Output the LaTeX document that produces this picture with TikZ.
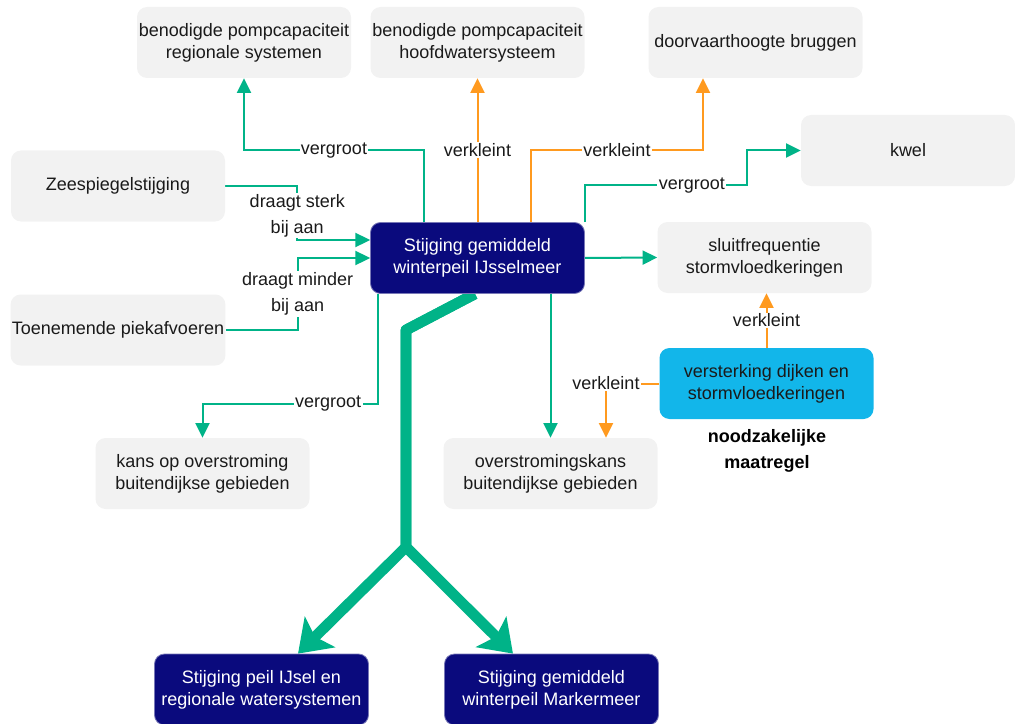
\documentclass[tikz,border=0pt]{standalone}
\usepackage{fontspec}
\setmainfont{Liberation Sans}
\usetikzlibrary{arrows.meta}

\definecolor{boxgrey}{RGB}{242,242,242}
\definecolor{navyc}{RGB}{10,10,125}
\definecolor{cyanc}{RGB}{18,182,234}
\definecolor{greenc}{RGB}{0,179,136}
\definecolor{orangec}{RGB}{255,154,31}
\definecolor{txt}{RGB}{26,26,26}

\newcommand\boxfont{\fontsize{13.5}{16.5}\selectfont}
\newcommand\labfont{\fontsize{13.5}{19.5}\selectfont}

\pgfdeclarelayer{background}
\pgfsetlayers{background,main}

\tikzset{
  box/.style={rectangle, rounded corners=7.5pt, minimum width=160.5pt,
    minimum height=53.25pt, align=center, inner sep=1pt, font=\boxfont},
  greybox/.style={box, fill=boxgrey, text=txt},
  navybox/.style={box, fill=navyc, draw=navyc!55!white, line width=0.6pt, text=white},
  cyanbox/.style={box, fill=cyanc, text=txt},
  notetext/.style={align=center, font=\fontsize{13.5}{20}\selectfont\bfseries, text=black},
  gline/.style={draw=greenc, line width=1.5pt, -{Triangle[length=11pt,width=10.5pt]}},
  oline/.style={draw=orangec, line width=1.5pt, -{Triangle[length=11pt,width=10.5pt]}},
  lab/.style={fill=white, inner sep=1pt, text=txt, font=\boxfont},
  lab2/.style={fill=white, inner sep=1pt, text=txt, font=\labfont, align=center},
  bigarrow/.style={draw=greenc, line width=8pt, line join=round,
    -{Stealth[length=23pt,width=32pt,inset=5pt]}}
}

\begin{document}
\begin{tikzpicture}[x=0.75pt,y=-0.75pt]
\useasboundingbox (0,0) rectangle (1015,724);

% boxes
\node[greybox] (regio) at (244,42.5) {benodigde pompcapaciteit\\regionale systemen};
\node[greybox] (hoofd) at (477.5,42.5) {benodigde pompcapaciteit\\hoofdwatersysteem};
\node[greybox] (brug) at (755.5,42.5) {doorvaarthoogte bruggen};
\node[greybox] (kwel) at (908,150.5) {kwel};
\node[greybox] (zee) at (118,186) {Zeespiegelstijging};
\node[greybox] (piek) at (118,330) {Toenemende piekafvoeren};
\node[navybox] (ijssel) at (477.5,258) {Stijging gemiddeld\\winterpeil IJsselmeer};
\node[greybox] (sluit) at (764.5,257.5) {sluitfrequentie\\stormvloedkeringen};
\node[cyanbox] (verst) at (766.5,383.5) {versterking dijken en\\stormvloedkeringen};
\node[notetext] (nood) at (767,451) {noodzakelijke\\maatregel};
\node[greybox] (kans) at (202.5,473.5) {kans op overstroming\\buitendijkse gebieden};
\node[greybox] (overst) at (550.5,473.5) {overstromingskans\\buitendijkse gebieden};
\node[navybox] (peil) at (261.5,689.5) {Stijging peil IJsel en\\regionale watersystemen};
\node[navybox] (marker) at (551.5,689.5) {Stijging gemiddeld\\winterpeil Markermeer};

\begin{pgfonlayer}{background}
% effects of the IJsselmeer level
\draw[gline] ([xshift=-40.125pt]ijssel.north) -- ++(0,-72)
  -| node[lab,pos=0.25]{vergroot} (regio.south);
\draw[oline] (ijssel.north) -- node[lab]{verkleint} (hoofd.south);
\draw[oline] ([xshift=40.125pt]ijssel.north) -- ++(0,-72)
  -| node[lab,pos=0.25]{verkleint} ([xshift=-39.375pt]brug.south);
\draw[gline] (ijssel.north east) -- ++(0,-37)
  -- node[lab,pos=0.66]{vergroot} ++(162,0) |- (kwel.west);
\draw[gline] (ijssel.east) -- (sluit.west);
\draw[gline] ([xshift=-74.625pt]ijssel.south) -- ++(0,110)
  -| node[lab,pos=0.142]{vergroot} (kans.north);
\draw[gline] (ijssel.south -| overst.north) -- (overst.north);

% causes
\draw[gline] (zee.east) -- ++(72,0)
  |- node[lab2,pos=0.25,yshift=-2pt]{draagt sterk\\bij aan} ([yshift=13.5pt]ijssel.west);
\draw[gline] (piek.east) -- ++(72,0)
  |- node[lab2,pos=0.25]{draagt minder\\bij aan} (ijssel.west);

% measure
\draw[oline] (verst.north) -- node[lab]{verkleint} (verst.north |- sluit.south);
\draw[oline] (verst.west) -| node[lab]{verkleint} ([xshift=41.625pt]overst.north);

% propagation to neighbouring systems
\coordinate (bend) at (406,330);
\coordinate (split) at (406,547);
\draw[bigarrow] ([xshift=-1.9pt]ijssel.south) -- (bend) -- (split) -- ([xshift=27.4pt]peil.north);
\draw[bigarrow] ([xshift=-1.9pt]ijssel.south) -- (bend) -- (split) -- ([xshift=-28.9pt]marker.north);
\end{pgfonlayer}
\end{tikzpicture}
\end{document}
